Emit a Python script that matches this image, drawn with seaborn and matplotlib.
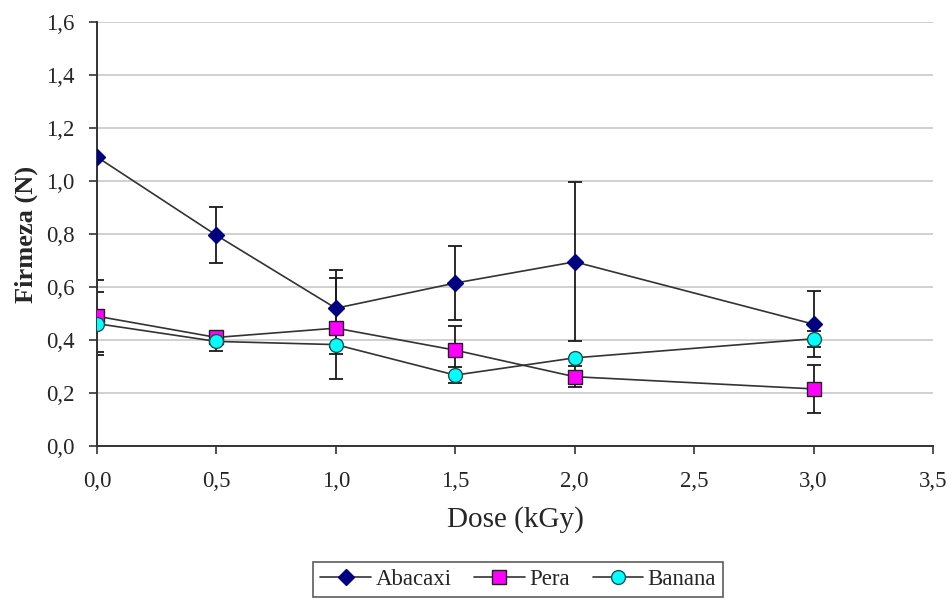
import matplotlib
matplotlib.use("Agg")
import matplotlib.pyplot as plt
import seaborn as sns
import numpy as np
from matplotlib.ticker import FuncFormatter

# Dados
dose = [0.0, 0.5, 1.0, 1.5, 2.0, 3.0]

abacaxi = [1.09, 0.795, 0.52, 0.615, 0.695, 0.46]
abacaxi_err = [0.0, 0.105, 0.145, 0.14, 0.30, 0.125]

pera = [0.49, 0.41, 0.445, 0.362, 0.262, 0.216]
pera_err = [0.135, 0.0, 0.19, 0.09, 0.04, 0.09]

banana = [0.462, 0.395, 0.383, 0.268, 0.333, 0.405]
banana_err = [0.12, 0.035, 0.035, 0.03, 0.0, 0.03]

series = [
    ("Abacaxi", abacaxi, abacaxi_err, "D", "#000080", "#000080", 8),
    ("Pera", pera, pera_err, "s", "#FF00FF", "#202020", 10),
    ("Banana", banana, banana_err, "o", "#00FFFF", "#205050", 10),
]

sns.set_style("white")
plt.rcParams["font.family"] = ["Liberation Serif", "DejaVu Serif"]

fig, ax = plt.subplots(figsize=(9.51, 6.03), dpi=100)
fig.subplots_adjust(left=0.102, right=0.981, top=0.964, bottom=0.26)

ax.yaxis.grid(True, color="#c8c8c8", linewidth=1.2)
ax.set_axisbelow(True)

for nome, vals, err, mk, face, edge, ms in series:
    ax.errorbar(dose, vals, yerr=err, fmt="none", ecolor="#1a1a1a",
                elinewidth=1.3, capsize=5, capthick=1.3, zorder=2)
    sns.lineplot(x=dose, y=vals, ax=ax, color="#333333", linewidth=1.2,
                 marker=mk, markersize=ms, markerfacecolor=face,
                 markeredgecolor=edge, markeredgewidth=1.0,
                 label=nome, zorder=3)

ax.set_xlim(0, 3.5)
ax.set_ylim(0, 1.6)
ax.set_xticks(np.arange(0, 3.51, 0.5))
ax.set_yticks(np.arange(0, 1.61, 0.2))
virgula = FuncFormatter(lambda v, p: f"{v:.1f}".replace(".", ","))
ax.xaxis.set_major_formatter(virgula)
ax.yaxis.set_major_formatter(virgula)
ax.tick_params(axis="both", labelsize=16.5, direction="out", length=6,
               width=1.2, color="#333333", bottom=True, left=True)
ax.tick_params(axis="y", pad=10)
ax.tick_params(axis="x", pad=12)

for s in ["top", "right"]:
    ax.spines[s].set_visible(False)
for s in ["left", "bottom"]:
    ax.spines[s].set_color("#333333")
    ax.spines[s].set_linewidth(1.4)

ax.set_xlabel("Dose (kGy)", fontsize=21, labelpad=10)
ax.set_ylabel("Firmeza (N)", fontsize=19, fontweight="bold", labelpad=6)

handles, labels = ax.get_legend_handles_labels()
ax.get_legend().remove()
leg = fig.legend(handles, labels, loc="lower center", ncol=3,
                 bbox_to_anchor=(0.545, 0.003), fontsize=16.5, frameon=True,
                 fancybox=False, edgecolor="#333333", handlelength=2.2,
                 columnspacing=1.0, handletextpad=0.2, borderpad=0.3,
                 borderaxespad=0.2)
leg.get_frame().set_linewidth(1.2)

plt.savefig("out.png", dpi=100)
